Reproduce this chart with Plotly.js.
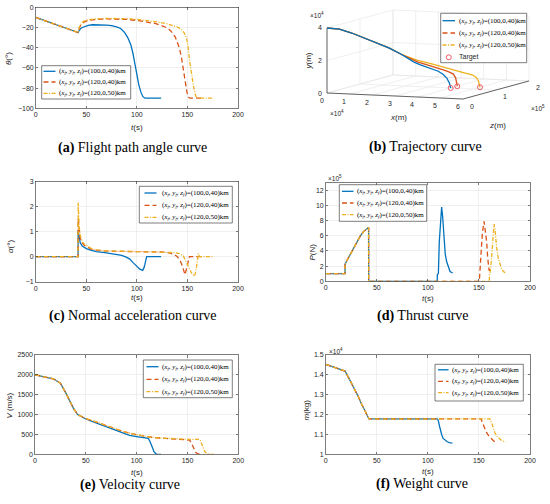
<!DOCTYPE html>
<html><head><meta charset="utf-8">
<script src="https://cdn.plot.ly/plotly-3.0.1.min.js"></script>
<style>html,body{margin:0;padding:0;background:#fff;}#chart{width:550px;height:504px;}</style>
</head><body><div id="chart"></div>
<script>
// ---------------- data ----------------
const finalPoints = ['(100,0,40)', '(120,0,40)', '(120,0,50)'];

// (a) flight path angle, deg
const thT1 = [0,42,43,44,46,48,52,56,60,65,70,75,80,84,88,91,94,96,98,100,102,104,106,108,124];
const th1  = [-10,-25,-23,-21.5,-20,-19,-17.8,-17.3,-17.2,-17.3,-17.6,-18.2,-19.3,-21,-25,-30,-37,-45,-56,-68,-77,-84,-88.5,-90,-90];
const thT2 = [0,42,43,44,46,48,52,56,60,70,80,90,100,110,118,124,128,132,135,138,140,142,144,146,148,149.5,151,152.5,165];
const th2  = [-10,-25,-21,-18.5,-16,-14.5,-13,-12.4,-12,-11.5,-11.5,-12,-13,-14.5,-16,-18,-19.5,-22,-25,-29.5,-34,-40,-49,-63,-76,-84,-89,-90,-90];
const thT3 = [0,42,43,44,46,48,52,56,60,70,80,90,100,110,120,130,136,140,144,147,149,150.5,152,154,156,158,159.5,176];
const th3  = [-10,-25,-20,-17.5,-15,-13.5,-12.3,-11.8,-11.5,-11,-11,-11.3,-12,-13,-14.5,-16.3,-18,-19.5,-22,-25.5,-30,-38,-52,-66,-78,-87,-90,-90];

// (c) normal acceleration, deg
const aT1 = [0,41.9,42,42.5,43,44,46,48,50,55,60,70,80,85,90,93,96.5,100,103,105.7,107,108,109,109.7,124];
const a1  = [0,0,1.05,0.9,0.72,0.55,0.42,0.36,0.32,0.25,0.2,0.15,0.1,0.05,-0.03,-0.1,-0.25,-0.4,-0.5,-0.55,-0.45,-0.3,-0.12,0,0];
const aT2 = [0,41.9,42,42.5,43,44,46,48,50,55,60,70,80,90,100,110,120,128,133,137,140,143,145,147.6,149,150,151,152,165];
const a2  = [0,0,1.5,1.2,0.95,0.72,0.55,0.45,0.4,0.3,0.26,0.22,0.21,0.2,0.2,0.2,0.2,0.18,0.14,0.08,0.0,-0.18,-0.38,-0.72,-0.5,-0.3,-0.08,0,0];
const aT3 = [0,41.9,42,42.5,43,44,46,48,50,55,60,70,80,90,100,110,120,130,137,142,146,149,151,154,156.8,158,159,160,160.8,161.5,162,176];
const a3  = [0,0,2.15,1.6,1.2,0.85,0.6,0.5,0.45,0.32,0.27,0.23,0.22,0.21,0.21,0.21,0.2,0.19,0.16,0.12,0.02,-0.22,-0.4,-0.65,-0.78,-0.65,-0.4,-0.05,0.12,0.05,0,0];

// (e) velocity, m/s
const vT1 = [0,10,18,20,25,30,35,38,42,50,60,70,77,85,93,100,105,110,111.5,113,114.8,116,117,118.5,119.5,124];
const v1  = [2000,1950,1900,1870,1790,1560,1290,1150,1000,890,790,690,627,540,475,445,432,420,400,330,234,140,65,15,0,0];
const vT2 = [0,10,18,20,25,30,35,38,42,50,60,70,77,85,93.5,100,110,120,127,140,150,152,154,155.3,156.4,158,160,162,165];
const v2  = [2000,1950,1900,1870,1790,1560,1290,1150,1000,900,815,720,655,590,529,495,444,415,403,390,378,360,280,190,108,50,15,0,0];
const vT3 = [0,10,18,20,25,30,35,38,42,50,60,70,77,85,93.5,100,110,120,127,140,150,161.3,162.5,164,165.6,167,169,172,177];
const v3  = [2000,1950,1900,1870,1790,1560,1290,1150,1000,900,815,720,655,590,529,495,444,415,403,390,378,378,360,260,151,70,20,0,0];

// (d) thrust, x1e5 N
const pT1 = [0,18.9,19,23,27,31,34,37,39.5,42,42.05,109.2,109.3,110.3,111.2,112.5,113.5,114.5,115.8,117,118.4,120,121.7,124.3];
const p1  = [1,1,2.3,3.3,4.3,5.3,6.0,6.55,6.85,7.1,0,0,0.9,1.0,5.2,8.7,9.8,8.5,5.2,3.6,2.6,1.9,1.3,1.1];
const pT2 = [0,18.9,19,23,27,31,34,37,39.5,42,42.05,150.4,152,153.5,155,156.3,157.6,158.5,159.2,160,161,162,163.5];
const p2  = [1,1,2.3,3.3,4.3,5.3,6.0,6.55,6.85,7.1,0,0,3.5,6.5,7.9,6.8,5.2,3.2,1.7,1.4,1.5,1.3,1.2];
const pT3 = [0,18.9,19,23,27,31,34,37,39.5,42,42.05,160.2,160.3,161,162,163,164,164.8,165.6,166.5,167.4,169,170.6,172,173.9,176.2];
const p3  = [1,1,2.3,3.3,4.3,5.3,6.0,6.55,6.85,7.1,0,0,0.9,1.1,2.5,4.5,6.6,7.55,7.0,5.6,4.4,3.0,2.2,1.7,1.3,1.1];

// (f) mass, x1e4 kg
const mT1 = [0,10,18.9,22,25,28.7,32,35.2,38,42.4,109.5,110.3,111.5,112.5,113.5,115,116.8,119,121,124];
const m1  = [1.453,1.437,1.419,1.39,1.36,1.327,1.29,1.252,1.22,1.178,1.178,1.168,1.14,1.115,1.10,1.08,1.07,1.063,1.059,1.056];
const mT2 = [0,10,18.9,22,25,28.7,32,35.2,38,42.4,152,153.3,155,157.4,160,162.5,165,166];
const m2  = [1.453,1.437,1.419,1.39,1.36,1.327,1.29,1.252,1.22,1.178,1.178,1.16,1.135,1.11,1.09,1.075,1.065,1.062];
const mT3 = [0,10,18.9,22,25,28.7,32,35.2,38,42.4,160.8,162,163,164,165.5,167.4,170,172,174,176.2];
const m3  = [1.453,1.437,1.419,1.39,1.36,1.327,1.29,1.252,1.22,1.178,1.178,1.165,1.15,1.134,1.11,1.092,1.078,1.07,1.066,1.063];

// (b) trajectories, m  (X: front axis "x(m)", Z: depth axis "z(m)", Y: height "y(m)")
const trajX1 = [0,4000,8000,12000,16000,20000,24000,26000,28000,30000,32000,34000,36000,37600,38800,39600,40000];
const trajZ1 = [0,10000,20000,30000,40000,50000,60000,65000,70000,75000,80000,85000,90000,94000,97000,99000,100000];
const trajY1 = [40000,39000,36300,33000,29500,26200,22000,19500,17000,15200,13700,12200,10600,8500,6000,3000,0];
const trajX2 = [0,4000,8000,12000,16000,20000,24000,26400,28800,31200,33600,36000,37600,38880,39520,39840,40000];
const trajZ2 = [0,10000,20000,30000,40000,50000,60000,69000,78000,87000,96000,105000,111000,115800,118200,119400,120000];
const trajY2 = [40000,39000,36300,33000,29500,26200,22000,19300,16400,14500,12700,10600,9200,7600,5200,2500,0];
const trajX3 = [0,4000,8000,12000,16000,20000,24000,26600,29200,34400,39600,44800,47400,48700,49480,50000];
const trajZ3 = [0,10000,20000,30000,40000,50000,60000,66000,72000,84000,96000,108000,114000,117000,118800,120000];
const trajY3 = [40000,39000,36300,33000,29500,26200,22000,20000,18100,15200,12000,9200,7800,6200,4000,0];
const targetX = [40000,40000,50000];
const targetZ = [100000,120000,120000];
const targetY = [0,0,0];

// tick labels
const xTicks = [0,50,100,150,200];
const thetaTicks = [-100,-80,-60,-40,-20,0];
const alphaTicks = [-1,0,1,2,3];
const velTicks = [0,500,1000,1500,2000,2500];
const thrustTicks = [0,2,4,6,8,10,12];
const massTicks = [1,1.1,1.2,1.3,1.4,1.5];
const massTickText = ['1','1.1','1.2','1.3','1.4','1.5'];
const trajXTicks = [0,10000,20000,30000,40000,50000,60000];
const trajXText = ['0','1','2','3','4','5','6'];
const trajZTicks = [0,100000,200000];
const trajZText = ['0','1','2'];
const trajYTicks = [0,20000,40000];
const trajYText = ['0','2','4'];

// ---------------- styling ----------------
const W = 550, H = 504;
const PX = x => x / W, PY = y => 1 - y / H;
const colors = ['#0072BD', '#D95319', '#EDB120'];
const dashes = ['solid', '5px,3px', '4px,1.5px,1px,1.5px'];
const targetColor = '#f05a64';
const SANS = 'Liberation Sans, Arial, sans-serif';
const SERIF = 'Liberation Serif, Times New Roman, serif';
const AX = '#262626';

function legendLabel(p) {
  return '(<i>x<sub>f</sub></i>, <i>y<sub>f</sub></i>, <i>z<sub>f</sub></i>)=' + p + 'km';
}

const panels = [
  {id: '', box: [35.7, 238, 7.3, 108.3], yr: [-100, 0], yt: thetaTicks, ytt: null,
   ts: [thT1, thT2, thT3], vs: [th1, th2, th3], ytitle: '<i>θ</i>(°)', ytitlePos: [8, 59], xtitlePos: [137, 127.5],
   leg: {l: 41.7, r: 130.7, t: 65.7, b: 99, rows: [71.3, 82, 93.3], s0: 43.5, s1: 55.5, tx: 57}, cap: ['(a)', 'Flight path angle curve', 132.5, 147.7]},
  {id: '2', box: [35.7, 238, 181.3, 281.7], yr: [-1, 3], yt: alphaTicks, ytt: null,
   ts: [aT1, aT2, aT3], vs: [a1, a2, a3], ytitle: '<i>α</i>(°)', ytitlePos: [10, 247], xtitlePos: [137, 297.5],
   leg: {l: 139.3, r: 232.3, t: 186.3, b: 223, rows: [193, 205.3, 217.3], s0: 144.5, s1: 156.5, tx: 159.5}, cap: ['(c)', 'Normal acceleration curve', 132.5, 316.3]},
  {id: '3', box: [35, 238.3, 355, 454.3], yr: [0, 2500], yt: velTicks, ytt: null,
   ts: [vT1, vT2, vT3], vs: [v1, v2, v3], ytitle: '<i>V</i> (m/s)', ytitlePos: [8.5, 406], xtitlePos: [137, 472],
   leg: {l: 143.3, r: 232.3, t: 360, b: 397.7, rows: [366.7, 379.3, 391.7], s0: 146.5, s1: 158.5, tx: 160}, cap: ['(e)', 'Velocity curve', 129.7, 485]},
  {id: '4', box: [325.7, 530, 182.7, 281.3], yr: [0, 13], yt: thrustTicks, ytt: null,
   ts: [pT1, pT2, pT3], vs: [p1, p2, p3], ytitle: '<i>P</i>(N)', ytitlePos: [311.5, 252], xtitlePos: [428.3, 298.5],
   leg: {l: 339.3, r: 426.7, t: 184.7, b: 221.3, rows: [191.3, 203, 214.7], s0: 342, s1: 353.5, tx: 355}, cap: ['(d)', 'Thrust curve', 423, 316],
   expo: ['×10<sup>5</sup>', 326, 178]},
  {id: '5', box: [325.7, 530, 355, 454.3], yr: [1, 1.5], yt: massTicks, ytt: massTickText,
   ts: [mT1, mT2, mT3], vs: [m1, m2, m3], ytitle: '<i>m</i>(kg)', ytitlePos: [305.5, 410], xtitlePos: [428.3, 471.5],
   leg: {l: 435, r: 523.3, t: 364.3, b: 401, rows: [369.8, 381.3, 392.7], s0: 438, s1: 448.5, tx: 450}, cap: ['(f)', 'Weight curve', 421.7, 484.3],
   expo: ['×10<sup>4</sup>', 327, 351]}
];

const data = [];
const layout = {
  width: W, height: H, margin: {l: 0, r: 0, t: 0, b: 0},
  paper_bgcolor: '#ffffff', plot_bgcolor: 'rgba(0,0,0,0)', showlegend: false,
  shapes: [], annotations: []
};

function ann(text, x, y, opts) {
  layout.annotations.push(Object.assign({text: text, x: PX(x), y: PY(y), xref: 'paper', yref: 'paper',
    showarrow: false, xanchor: 'center', yanchor: 'middle',
    font: {family: SANS, size: 8, color: AX}}, opts || {}));
}
function legendBox(g) {
  layout.shapes.push({type: 'rect', xref: 'paper', yref: 'paper', layer: 'above',
    x0: PX(g.l), x1: PX(g.r), y0: PY(g.b), y1: PY(g.t), fillcolor: '#ffffff', line: {color: AX, width: 0.6}});
  g.rows.slice(0, 3).forEach((ry, i) => {
    layout.shapes.push({type: 'line', xref: 'paper', yref: 'paper', layer: 'above',
      x0: PX(g.s0), x1: PX(g.s1), y0: PY(ry), y1: PY(ry), line: {color: colors[i], width: 1.3, dash: dashes[i]}});
    ann(legendLabel(finalPoints[i]), g.tx, ry, {xanchor: 'left', font: {family: SERIF, size: 7, color: '#000'}});
  });
}

panels.forEach(p => {
  const [l, r, t, b] = p.box;
  const axBase = {
    showline: true, mirror: 'ticks', linecolor: AX, linewidth: 0.6,
    showgrid: true, gridcolor: '#e4e4e4', gridwidth: 0.6, zeroline: false,
    ticks: 'inside', ticklen: 2.5, tickwidth: 0.6, tickcolor: AX,
    tickfont: {family: SANS, size: 7, color: AX}, fixedrange: true
  };
  layout['xaxis' + p.id] = Object.assign({}, axBase, {
    domain: [PX(l), PX(r)], anchor: 'y' + p.id, range: [0, 200], tickvals: xTicks
  });
  const ya = Object.assign({}, axBase, {
    domain: [PY(b), PY(t)], anchor: 'x' + p.id, range: p.yr, tickvals: p.yt
  });
  if (p.ytt) ya.ticktext = p.ytt;
  layout['yaxis' + p.id] = ya;

  p.ts.forEach((tt, i) => {
    data.push({type: 'scatter', mode: 'lines', x: tt, y: p.vs[i], xaxis: 'x' + p.id, yaxis: 'y' + p.id,
      line: {color: colors[i], width: 1.3, dash: dashes[i]}, hoverinfo: 'skip'});
  });

  ann('<i>t</i>(s)', p.xtitlePos[0], p.xtitlePos[1]);
  ann(p.ytitle, p.ytitlePos[0], p.ytitlePos[1], {textangle: -90});
  if (p.expo) ann(p.expo[0], p.expo[1], p.expo[2], {xanchor: 'left', font: {family: SANS, size: 6.5, color: AX}});
  legendBox(p.leg);
  ann('<b>' + p.cap[0] + '</b> ' + p.cap[1], p.cap[2], p.cap[3], {font: {family: SERIF, size: 14, color: '#000'}});
});

// ---------------- (b) 3D trajectory panel: orthographic view projected onto a 2D axis ----------------
const view3 = {az: 111.9, el: 6.3};               // horizontal viewing angle and elevation (deg)
const box3 = {a: 1.466, b: 1.77, c: 0.654};        // plot-box edge lengths (front, depth, height)
const lim3 = {x: 60000, z: 200000, y: 40000};      // axis limits
function proj(x, z, y) {
  const al = view3.az * Math.PI / 180, ph = view3.el * Math.PI / 180;
  const X = x / lim3.x * box3.a, D = z / lim3.z * box3.b, Hh = y / lim3.y * box3.c;
  return [X * Math.sin(al) - D * Math.cos(al),
          X * Math.cos(al) * Math.sin(ph) + D * Math.sin(al) * Math.sin(ph) + Hh * Math.cos(ph)];
}
function projLine(xs, zs, ys) {
  const u = [], v = [];
  xs.forEach((x, i) => { const q = proj(x, zs[i], ys[i]); u.push(q[0]); v.push(q[1]); });
  return {u: u, v: v};
}
function segs(list) {
  const u = [], v = [];
  list.forEach(s => { const a = proj(...s[0]), b = proj(...s[1]); u.push(a[0], b[0], null); v.push(a[1], b[1], null); });
  return {u: u, v: v};
}
layout.xaxis6 = {domain: [PX(300), 1], range: [-0.27, 2.23], visible: false, fixedrange: true, anchor: 'y6'};
layout.yaxis6 = {domain: [PY(135), 1], range: [-0.42, 0.93], visible: false, fixedrange: true, anchor: 'x6'};

const grid = [];
trajXTicks.forEach(f => { grid.push([[f, 0, 0], [f, lim3.z, 0]]); grid.push([[f, lim3.z, 0], [f, lim3.z, lim3.y]]); });
trajZTicks.forEach(d => { grid.push([[0, d, 0], [lim3.x, d, 0]]); grid.push([[0, d, 0], [0, d, lim3.y]]); });
trajYTicks.forEach(h => { grid.push([[0, 0, h], [0, lim3.z, h]]); grid.push([[0, lim3.z, h], [lim3.x, lim3.z, h]]); });
const gp = segs(grid);
data.push({type: 'scatter', mode: 'lines', x: gp.u, y: gp.v, xaxis: 'x6', yaxis: 'y6',
  line: {color: '#e4e4e4', width: 0.6}, hoverinfo: 'skip'});
const axp = segs([[[0, 0, 0], [lim3.x, 0, 0]], [[lim3.x, 0, 0], [lim3.x, lim3.z, 0]], [[0, 0, 0], [0, 0, lim3.y]]]);
data.push({type: 'scatter', mode: 'lines', x: axp.u, y: axp.v, xaxis: 'x6', yaxis: 'y6',
  line: {color: AX, width: 0.7}, hoverinfo: 'skip'});

const trajs = [[trajX1, trajZ1, trajY1], [trajX2, trajZ2, trajY2], [trajX3, trajZ3, trajY3]];
[2, 1, 0].forEach(i => {
  const q = projLine(trajs[i][0], trajs[i][1], trajs[i][2]);
  data.push({type: 'scatter', mode: 'lines', x: q.u, y: q.v, xaxis: 'x6', yaxis: 'y6',
    line: {color: colors[i], width: 1.3}, hoverinfo: 'skip'});
});
const tq = projLine(targetX, targetZ, targetY);
data.push({type: 'scatter', mode: 'markers', x: tq.u, y: tq.v, xaxis: 'x6', yaxis: 'y6',
  marker: {symbol: 'circle-open', size: 5, color: targetColor, line: {width: 1}}, hoverinfo: 'skip'});

function ann6(text, p, opts) {
  layout.annotations.push(Object.assign({text: text, x: p[0], y: p[1], xref: 'x6', yref: 'y6', showarrow: false,
    xanchor: 'center', yanchor: 'middle', font: {family: SANS, size: 7, color: AX}}, opts || {}));
}
trajXTicks.forEach((f, i) => ann6(trajXText[i], proj(f, 0, 0), {xshift: -5.5, yshift: -7.5}));
trajZTicks.forEach((d, i) => ann6(trajZText[i], proj(lim3.x, d, 0), {xshift: 8.5, yshift: -7}));
trajYTicks.forEach((h, i) => ann6(trajYText[i], proj(0, 0, h), {xanchor: 'right', xshift: -3}));

ann('×10<sup>4</sup>', 308, 15, {xanchor: 'left', font: {family: SANS, size: 6.5, color: AX}});
ann('×10<sup>4</sup>', 328, 113.5, {xanchor: 'left', font: {family: SANS, size: 6.5, color: AX}});
ann('×10<sup>5</sup>', 529, 107.5, {xanchor: 'left', font: {family: SANS, size: 6.5, color: AX}});
ann('<i>y</i>(m)', 307.5, 61, {textangle: -90});
ann('<i>x</i>(m)', 398.7, 117.5);
ann('<i>z</i>(m)', 498, 125.5);

const leg3 = {l: 440.7, r: 526.7, t: 13.3, b: 62.7, rows: [20.7, 33, 45, 57.3], s0: 442.5, s1: 455, tx: 457};
legendBox(leg3);
layout.shapes.push({type: 'circle', xref: 'paper', yref: 'paper', layer: 'above',
  x0: PX(446.3), x1: PX(451.3), y0: PY(leg3.rows[3] + 2.5), y1: PY(leg3.rows[3] - 2.5),
  line: {color: targetColor, width: 1}});
ann('Target', leg3.tx, leg3.rows[3], {xanchor: 'left', font: {family: SANS, size: 7, color: AX}});
ann('<b>(b)</b> Trajectory curve', 425, 146.7, {font: {family: SERIF, size: 14, color: '#000'}});

Plotly.newPlot('chart', data, layout, {displayModeBar: false, staticPlot: true});
</script>
</body></html>
